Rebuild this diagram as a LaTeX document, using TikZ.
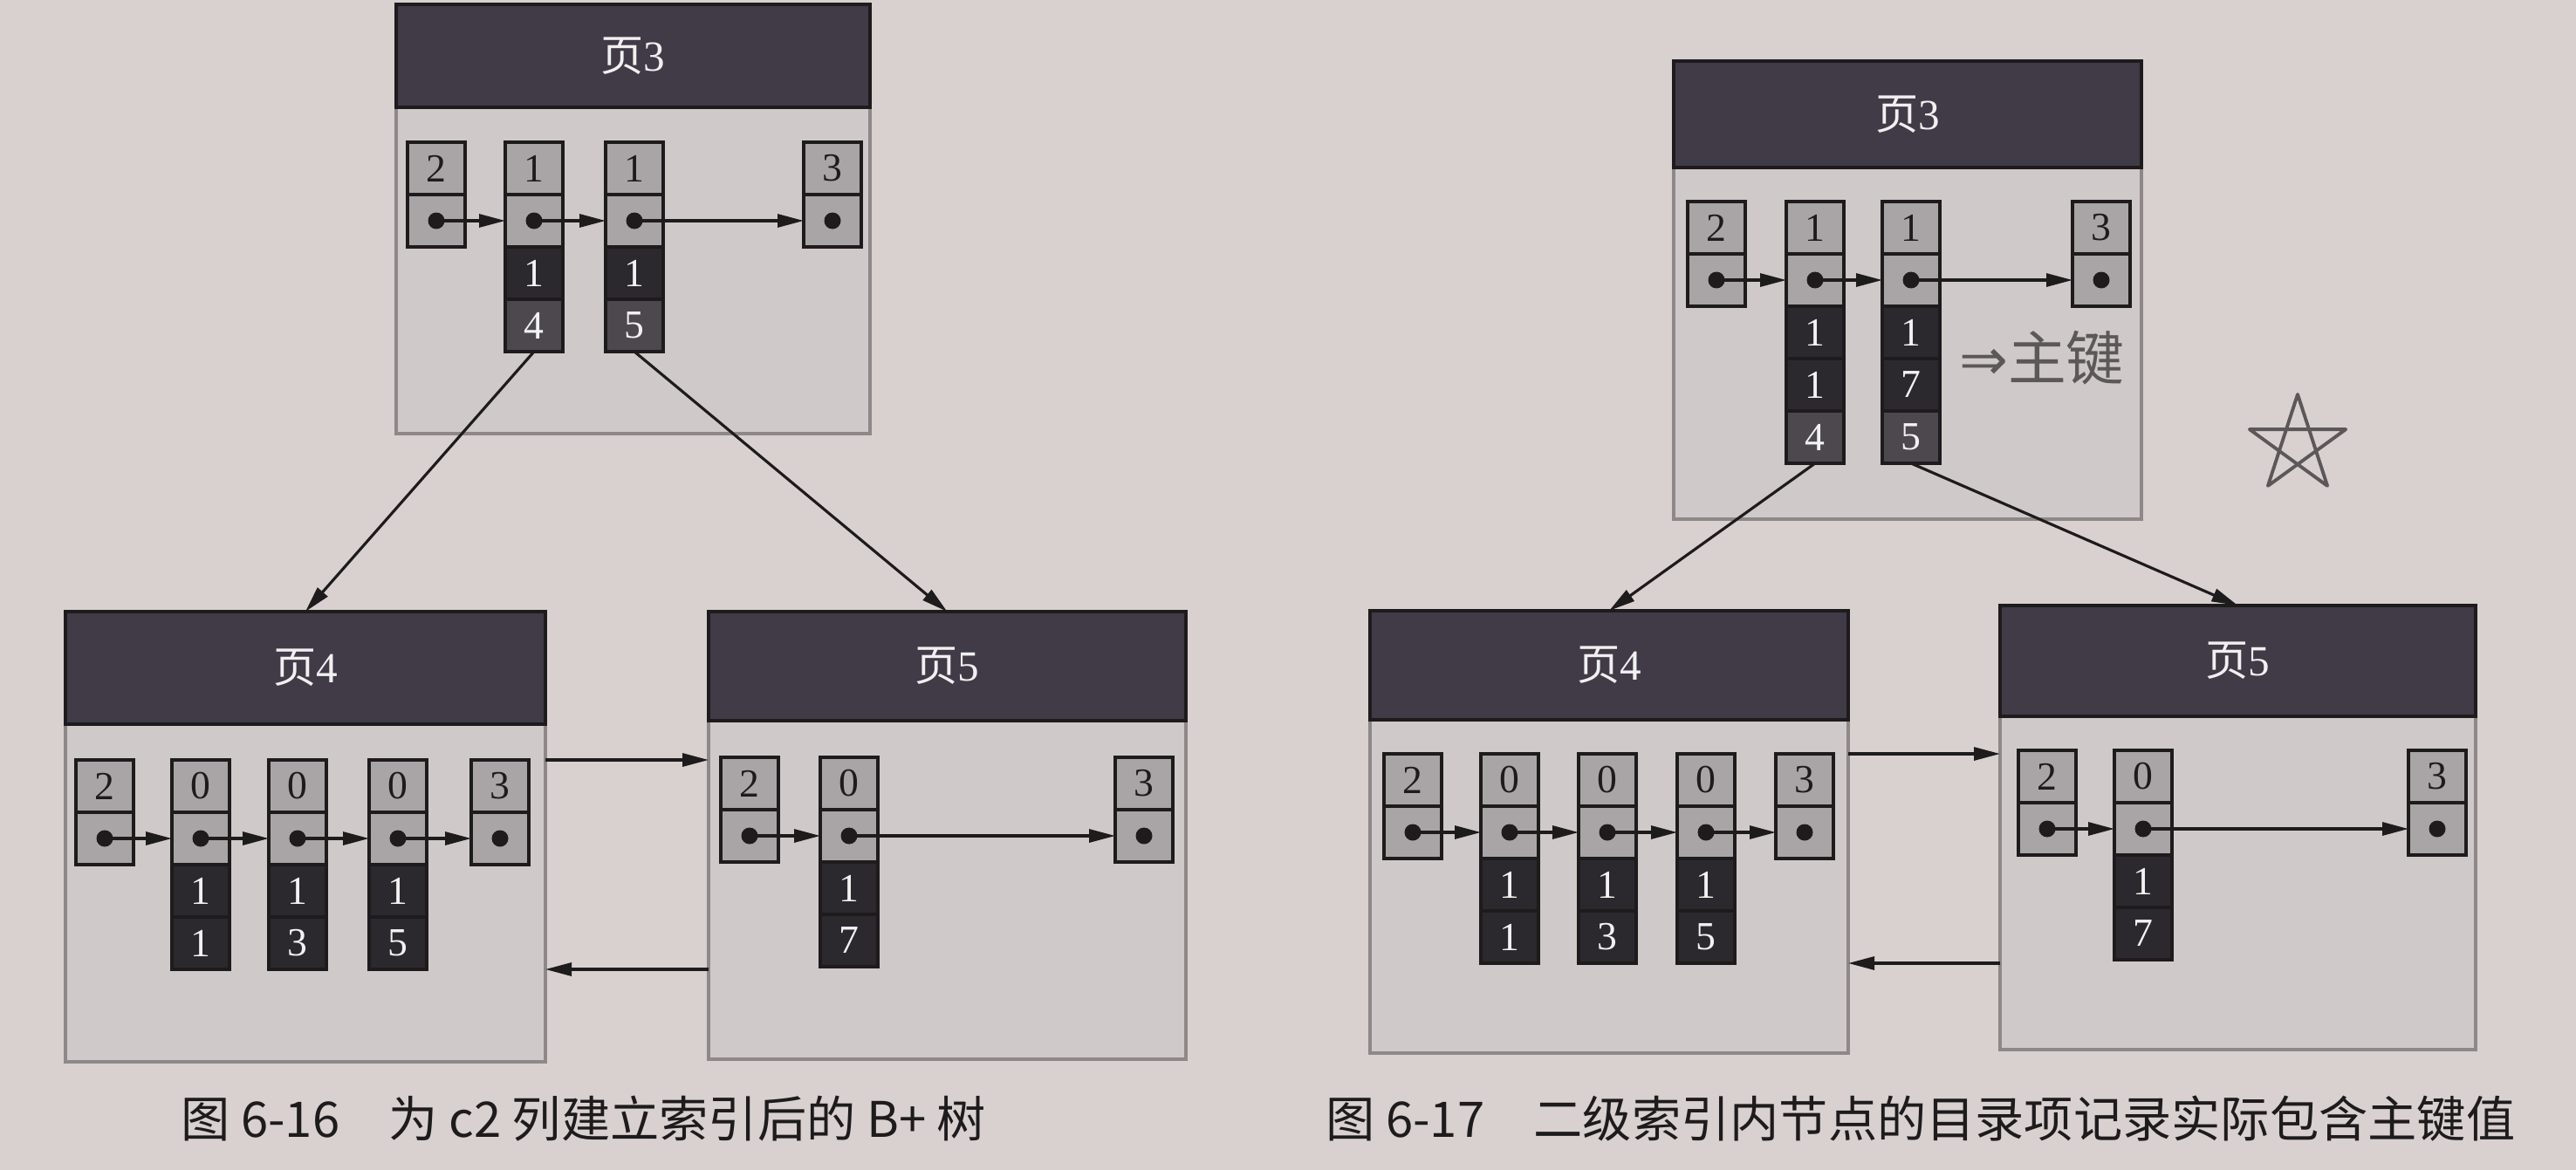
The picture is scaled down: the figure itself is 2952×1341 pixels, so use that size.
\documentclass[tikz,border=0pt]{standalone}
\usepackage{fontspec}
\setmainfont{Liberation Serif}
\newfontfamily\cjk{Noto Sans CJK SC}
\newfontfamily\symf{DejaVu Sans}
\usetikzlibrary{arrows.meta, positioning}
\definecolor{paper}{HTML}{D8D1CF}
\definecolor{page-head}{HTML}{413A47}
\definecolor{page-body}{HTML}{CFC9C9}
\definecolor{page-edge}{HTML}{8E8889}
\definecolor{key-gray}{HTML}{A9A4A6}
\definecolor{data-dark}{HTML}{2C292E}
\definecolor{pgno-gray}{HTML}{4C484E}
\definecolor{ink}{HTML}{1E1B1D}
\definecolor{pencil}{HTML}{5C5759}

\tikzset{
  cell/.style={draw=ink, line width=1.3pt, outer sep=0pt, inner sep=0pt,
    minimum width=6.6mm, minimum height=6mm, font=\fontsize{13}{15}\selectfont},
  keycell/.style={cell, fill=key-gray, text=ink},
  datacell/.style={cell, fill=data-dark, text=white!90!gray},
  pgcell/.style={cell, fill=pgno-gray, text=white!90!gray},
  pagehead/.style={draw=ink, line width=1.2pt, fill=page-head, text=white!88!gray,
    anchor=south, outer sep=0pt, font=\fontsize{14}{16}\selectfont},
  pagebody/.style={draw=page-edge, line width=1.3pt, fill=page-body,
    anchor=north, outer sep=0pt},
  ptr/.style={-{Triangle[length=3mm,width=1.5mm]}, line width=0.9pt, draw=ink},
  caption/.style={anchor=west, text=ink, font=\cjk\fontsize{16}{18}\selectfont},
  hand/.style={draw=pencil, line width=1.1pt, line cap=round, line join=round},
}

% one record of a page: name, x, top, key, data cells
\newcommand{\pagerec}[5]{%
  \node[keycell] (#1-k) at (#2,#3+30) {#4};
  \node[keycell] (#1-p) at (#2,#3+90) {};
  \fill[ink] (#1-p.center) circle (0.95mm);
  \ifx\relax#5\relax\else
    \foreach \v [count=\i] in {#5}
      {\node[datacell] (#1-d\i) at (#2,#3+90+60*\i) {\v};}
  \fi}

\begin{document}
\begin{tikzpicture}[x=0.1mm, y=-0.1mm]
  \useasboundingbox (0,0) rectangle (2952,1341);
  \fill[paper] (0,0) rectangle (2952,1341);

  % fig 6-16
  \node[pagebody, minimum width=54.3mm, minimum height=37.4mm] (L3) at (725.5,123) {};
  \node[pagehead, minimum width=54.3mm, minimum height=11.8mm] (L3h) at (L3.north) {{\cjk 页}3};
  \node[pagebody, minimum width=55mm, minimum height=38.7mm] (L4) at (350,830) {};
  \node[pagehead, minimum width=55mm, minimum height=12.9mm] (L4h) at (L4.north) {{\cjk 页}4};
  \node[pagebody, minimum width=54.7mm, minimum height=38.8mm] (L5) at (1085.5,826) {};
  \node[pagehead, minimum width=54.7mm, minimum height=12.5mm] (L5h) at (L5.north) {{\cjk 页}5};

  \pagerec{L3inf}{500}{163}{2}{}
  \pagerec{L3r1}{612}{163}{1}{1}
  \node[pgcell, below=0pt of L3r1-d1] (L3r1-g) {4};
  \pagerec{L3r2}{727}{163}{1}{1}
  \node[pgcell, below=0pt of L3r2-d1] (L3r2-g) {5};
  \pagerec{L3sup}{954}{163}{3}{}

  \pagerec{L4inf}{120}{871}{2}{}
  \pagerec{L4r1}{230}{871}{0}{1,1}
  \pagerec{L4r2}{341}{871}{0}{1,3}
  \pagerec{L4r3}{456}{871}{0}{1,5}
  \pagerec{L4sup}{573}{871}{3}{}

  \pagerec{L5inf}{859}{868}{2}{}
  \pagerec{L5r1}{973}{868}{0}{1,7}
  \pagerec{L5sup}{1311}{868}{3}{}

  \draw[ptr] (L3r1-g.south) -- (L4h.north);
  \draw[ptr] (L3r2-g.south) -- (L5h.north);
  \draw[ptr] (L4.east |- L4r1-k.north) -- (L5.west |- L4r1-k.north);
  \draw[ptr] (L5.west |- L4r1-d2.south) -- (L4.east |- L4r1-d2.south);

  % fig 6-17
  \node[pagebody, minimum width=53.6mm, minimum height=40.3mm] (R3) at (2186,192) {};
  \node[pagehead, minimum width=53.6mm, minimum height=12.2mm] (R3h) at (R3.north) {{\cjk 页}3};
  \node[pagebody, minimum width=54.8mm, minimum height=38.2mm] (R4) at (1844,825) {};
  \node[pagehead, minimum width=54.8mm, minimum height=12.5mm] (R4h) at (R4.north) {{\cjk 页}4};
  \node[pagebody, minimum width=54.5mm, minimum height=38.2mm] (R5) at (2564.5,821) {};
  \node[pagehead, minimum width=54.5mm, minimum height=12.7mm] (R5h) at (R5.north) {{\cjk 页}5};

  \pagerec{R3inf}{1967}{231}{2}{}
  \pagerec{R3r1}{2080}{231}{1}{1,1}
  \node[pgcell, below=0pt of R3r1-d2] (R3r1-g) {4};
  \pagerec{R3r2}{2190}{231}{1}{1,7}
  \node[pgcell, below=0pt of R3r2-d2] (R3r2-g) {5};
  \pagerec{R3sup}{2408}{231}{3}{}

  \pagerec{R4inf}{1619}{864}{2}{}
  \pagerec{R4r1}{1730}{864}{0}{1,1}
  \pagerec{R4r2}{1842}{864}{0}{1,3}
  \pagerec{R4r3}{1955}{864}{0}{1,5}
  \pagerec{R4sup}{2068}{864}{3}{}

  \pagerec{R5inf}{2346}{860}{2}{}
  \pagerec{R5r1}{2456}{860}{0}{1,7}
  \pagerec{R5sup}{2793}{860}{3}{}

  \draw[ptr] (R3r1-g.south) -- (R4h.north);
  \draw[ptr] (R3r2-g.south) -- (R5h.north);
  \draw[ptr] (R4.east |- R4r1-k.north) -- (R5.west |- R4r1-k.north);
  \draw[ptr] (R5.west |- R4r1-d2.south) -- (R4.east |- R4r1-d2.south);

  % next-record pointers
  \foreach \a/\b in {L3inf/L3r1, L3r1/L3r2, L3r2/L3sup,
      L4inf/L4r1, L4r1/L4r2, L4r2/L4r3, L4r3/L4sup,
      L5inf/L5r1, L5r1/L5sup,
      R3inf/R3r1, R3r1/R3r2, R3r2/R3sup,
      R4inf/R4r1, R4r1/R4r2, R4r2/R4r3, R4r3/R4sup,
      R5inf/R5r1, R5r1/R5sup}
    \draw[ptr] (\a-p.center) -- (\b-p.west);

  % pencil notes
  \node[text=pencil, font=\cjk\fontsize{19}{21}\selectfont] (note) at (2340,410) {{\symf ⇒}主键};
  \coordinate (star) at (2633,510);
  \draw[hand] ([shift={(90:5.8mm)}]star) -- ([shift={(234:5.8mm)}]star)
    -- ([shift={(18:5.8mm)}]star) -- ([shift={(162:5.8mm)}]star)
    -- ([shift={(306:5.8mm)}]star) -- cycle;

  \node[caption] (cap16) at (195,1282) {图 6-16\quad 为 c2 列建立索引后的 B+ 树};
  \node[caption] (cap17) at (1507,1282) {图 6-17\quad 二级索引内节点的目录项记录实际包含主键值};
\end{tikzpicture}
\end{document}
